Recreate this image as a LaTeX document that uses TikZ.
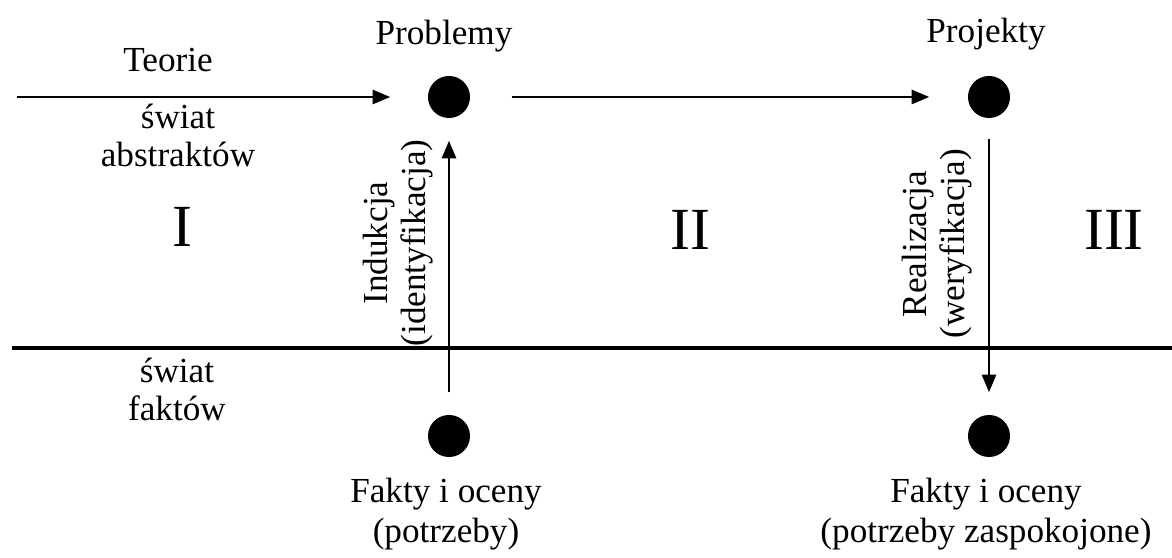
\documentclass[tikz,border=0pt]{standalone}
\usepackage{fontspec}
\setmainfont{Liberation Serif}
\usetikzlibrary{arrows.meta}
\begin{document}
\begin{tikzpicture}[x=0.01cm,y=-0.01cm,
  dot/.style={circle,fill=black,inner sep=0pt,minimum size=0.42cm},
  lbl/.style={font=\fontsize{10}{10.8}\selectfont,inner sep=0pt,align=center},
  lblb/.style={font=\fontsize{10}{11.4}\selectfont,inner sep=0pt,align=center},
  roman/.style={font=\fontsize{17}{20}\selectfont,inner sep=0pt,anchor=base},
  conn/.style={line width=0.7pt,-{Triangle[length=5pt,width=4pt]}},
  divider/.style={line width=0.9pt}]
\useasboundingbox (0,0) rectangle (1172,558);
% dots
\node[dot] (p1) at (449,97) {};
\node[dot] (p2) at (989,97) {};
\node[dot] (f1) at (449,436) {};
\node[dot] (f2) at (989,436) {};
% dot labels
\node[lbl,anchor=base] (tprob) at (444,45) {Problemy};
\node[lbl,anchor=base] (tproj) at (986,43) {Projekty};
\node[lblb] (tf1) at (446,514) {Fakty i oceny\\(potrzeby)};
\node[lblb] (tf2) at (986,514) {Fakty i oceny\\(potrzeby zaspokojone)};
% left labels
\node[lbl,anchor=base] (teorie) at (168,72) {Teorie};
\node[lbl] (abstr) at (178,135) {świat\\abstraktów};
\node[lbl] (fakt) at (177,389) {świat\\faktów};
% region numerals
\node[roman] (r1) at (182,247) {I};
\node[roman] (r2) at (690,250) {II};
\node[roman] (r3) at (1114,250) {III};
% rotated labels
\node[lbl,rotate=90] (ind) at (398,243) {Indukcja\\(identyfikacja)};
\node[lbl,rotate=90] (real) at (937,244) {Realizacja\\(weryfikacja)};
% divider
\coordinate (dl) at (12,348);
\coordinate (dr) at (1172,348);
\draw[divider] (dl) -- (dr);
% connectors
\coordinate (t0) at (17,97);
\draw[conn,shorten >=0.37cm] (t0) -- (p1);
\draw[conn,shorten <=0.41cm,shorten >=0.38cm] (p1) -- (p2);
\draw[conn,shorten <=0.22cm,shorten >=0.22cm] (f1) -- (p1);
\draw[conn,shorten <=0.20cm,shorten >=0.22cm] (p2) -- (f2);
\end{tikzpicture}
\end{document}
